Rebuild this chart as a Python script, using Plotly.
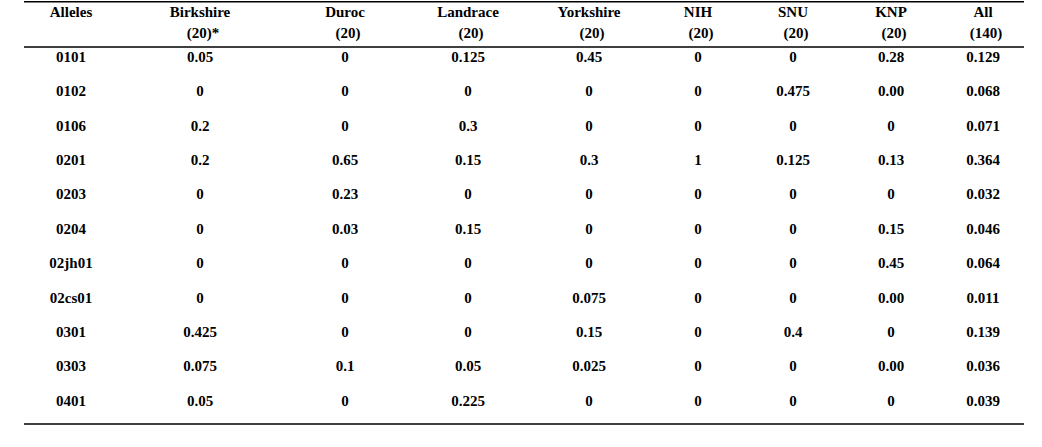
import plotly.graph_objects as go

alleles = ["0101", "0102", "0106", "0201", "0203", "0204", "02jh01", "02cs01", "0301", "0303", "0401"]
breeds = ["Birkshire", "Duroc", "Landrace", "Yorkshire", "NIH", "SNU", "KNP", "All"]
sample_sizes = ["(20)*", "(20)", "(20)", "(20)", "(20)", "(20)", "(20)", "(140)"]

birkshire = ["0.05", "0", "0.2", "0.2", "0", "0", "0", "0", "0.425", "0.075", "0.05"]
duroc = ["0", "0", "0", "0.65", "0.23", "0.03", "0", "0", "0", "0.1", "0"]
landrace = ["0.125", "0", "0.3", "0.15", "0", "0.15", "0", "0", "0", "0.05", "0.225"]
yorkshire = ["0.45", "0", "0", "0.3", "0", "0", "0", "0.075", "0.15", "0.025", "0"]
nih = ["0", "0", "0", "1", "0", "0", "0", "0", "0", "0", "0"]
snu = ["0", "0.475", "0", "0.125", "0", "0", "0", "0", "0.4", "0", "0"]
knp = ["0.28", "0.00", "0", "0.13", "0", "0.15", "0.45", "0.00", "0", "0.00", "0"]
all_breeds = ["0.129", "0.068", "0.071", "0.364", "0.032", "0.046", "0.064", "0.011", "0.139", "0.036", "0.039"]

columns = [birkshire, duroc, landrace, yorkshire, nih, snu, knp, all_breeds]

# layout (page pixel coordinates)
W, H = 1042, 447
label_x = 71
col_x = [200, 345, 468, 589, 698, 793, 891, 983]
head_y1, head_y2 = 13, 34
row_y0, row_step = 58, 34.4
line_x0, line_x1 = 24, 1024
FONT = dict(family="Liberation Serif", size=15, color="#000000")

fig = go.Figure()
row_y = [row_y0 + i * row_step for i in range(len(alleles))]

def text_trace(xs, ys, labels):
    return go.Scatter(x=xs, y=ys, text=[f"<b>{t}</b>" for t in labels], mode="text",
                      textfont=FONT, hoverinfo="skip", cliponaxis=False)

fig.add_trace(text_trace([label_x] * len(alleles), row_y, alleles))
fig.add_trace(text_trace([label_x] + col_x, [head_y1] * (len(breeds) + 1), ["Alleles"] + breeds))
fig.add_trace(text_trace([c + 3 for c in col_x], [head_y2] * len(breeds), sample_sizes))
for cx, vals in zip(col_x, columns):
    fig.add_trace(text_trace([cx] * len(vals), row_y, vals))

for ly in [1.7, 47, 424]:
    fig.add_shape(type="line", x0=line_x0, x1=line_x1, y0=ly, y1=ly, xref="x", yref="y",
                  line=dict(color="#000000", width=1.6))

fig.update_layout(
    width=W, height=H, margin=dict(l=0, r=0, t=0, b=0),
    paper_bgcolor="white", plot_bgcolor="white", showlegend=False,
    xaxis=dict(range=[0, W], visible=False, fixedrange=True),
    yaxis=dict(range=[H, 0], visible=False, fixedrange=True),
)
fig.write_html("out.html", config={"displayModeBar": False},
               post_script="document.body.style.margin='0';document.body.style.overflow='hidden';")
